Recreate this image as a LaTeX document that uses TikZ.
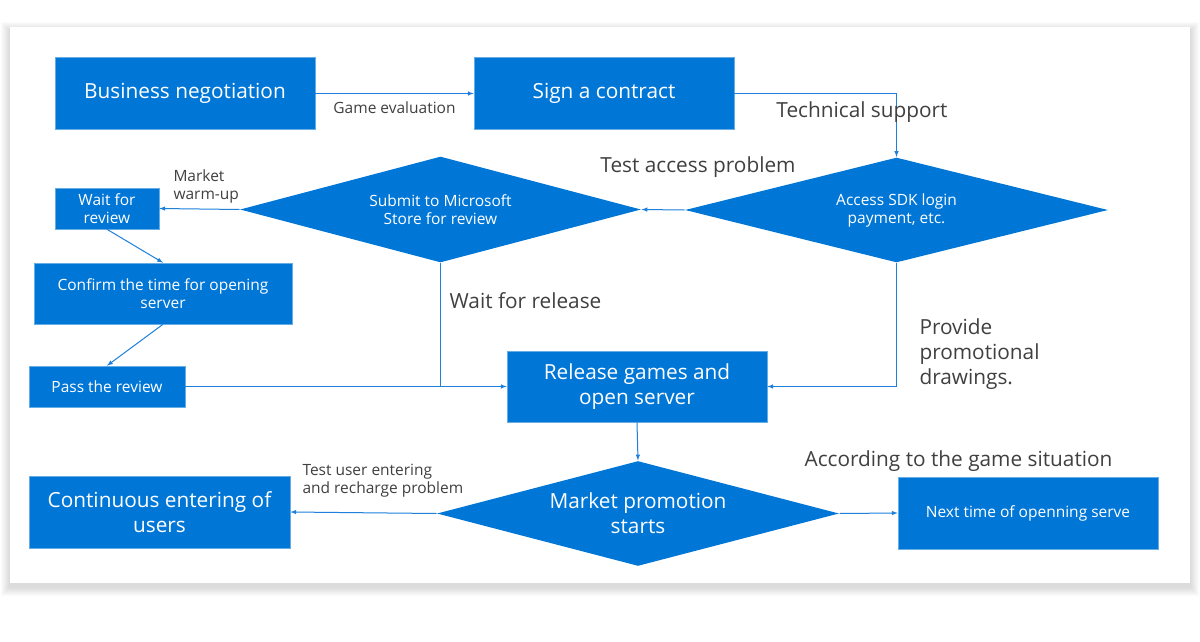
\documentclass[tikz,border=0pt]{standalone}
\usepackage{fontspec}
\setmainfont{Open Sans}
\usepackage{tikz}
\usetikzlibrary{arrows}
\usetikzlibrary{shapes.geometric}
\definecolor{msblue}{RGB}{0,118,214}
\definecolor{lineblue}{RGB}{28,128,220}
\definecolor{txtgray}{RGB}{64,64,64}
\tikzset{l/.style={font=\fontsize{20.8}{25}\selectfont}}
\tikzset{m/.style={font=\fontsize{15.5}{18}\selectfont}}
\tikzset{box/.style={draw=msblue!60!white, line width=0.6pt, fill=msblue, text=white, align=center, inner sep=0pt}}
\tikzset{dia/.style={diamond, fill=msblue, text=white, align=center, inner sep=0pt, shape aspect=3.8}}
\tikzset{lab/.style={text=txtgray, align=left, inner sep=0pt, yshift=-2.5pt}}

\begin{document}
\begin{tikzpicture}[x=1pt, y=-1pt, >=latex, line width=1pt]
        \useasboundingbox (0,0) rectangle (1200,642);
        % card and its shadow
        \foreach \i in {1,...,9}
          \fill [black, opacity=0.014] (10-\i,27-\i+4) rectangle (1190+\i,583+\i+4);
        \fill [white] (10,27) rectangle (1190,583);

        \node [box, l, minimum width=260, minimum height=72] (BN) at (185,93.5) {Business negotiation};
        \node [box, l, minimum width=260, minimum height=72] (SC) at (604,93.5) {Sign a contract}
          edge [<-, lineblue] node [lab, m, below=5pt] {Game evaluation} (BN);
        \node [dia, m, minimum width=423, minimum height=105] (AS) at (896.5,210) {Access SDK login\\payment, etc.};
        \node [dia, m, minimum width=401, minimum height=106] (SM) at (440.5,209.5) {Submit to Microsoft\\Store for review};
        \draw [->, lineblue] (SC.east) -| (AS.north);
        \node [lab, l] (TS) at (862,110) {Technical support};
        \draw [->, lineblue] (AS.west) -- (SM.east);
        \node [lab, l] (TA) at (698,165) {Test access problem};

        \node [box, m, minimum width=104, minimum height=41] (WR) at (107,208.5) {Wait for\\review};
        \draw [->, lineblue] (SM.west) -- (WR.east);
        \node [lab, m, anchor=west] (MW) at (173,184) {Market\\warm-up};
        \node [box, m, minimum width=258, minimum height=61] (CT) at (163,293.5) {Confirm the time for opening\\server};
        \draw [->, lineblue] (WR.south) -- (CT.north);
        \node [box, m, minimum width=156, minimum height=41] (PR) at (107,386.5) {Pass the review};
        \draw [->, lineblue] (CT.south) -- (PR.north);

        \node [box, l, minimum width=260, minimum height=71] (RG) at (637,386.5) {Release games and\\open server};
        \draw [->, lineblue] (PR.east) -- (RG.west);
        \draw [lineblue] (SM.south) -- (SM.south |- RG.west);
        \node [lab, l] (WL) at (525.5,298) {Wait for release};
        \draw [->, lineblue] (AS.south) |- (RG.east);
        \node [lab, l, anchor=west] (PD) at (919,352) {Provide\\promotional\\drawings.};

        \node [dia, l, minimum width=402, minimum height=105] (MP) at (638,513.5) {Market promotion\\starts};
        \draw [->, lineblue] (RG.south) -- (MP.north);
        \node [box, l, minimum width=261, minimum height=72] (CU) at (159.5,512) {Continuous entering of\\users};
        \draw [->, lineblue] (MP.west) -- (CU.east);
        \node [lab, m, anchor=west] (TU) at (302,478.5) {Test user entering\\and recharge problem};
        \node [box, m, minimum width=260, minimum height=72] (NT) at (1028,513) {Next time of openning serve};
        \draw [->, lineblue] (MP.east) -- (NT.west);
        \node [lab, l] (AG) at (958.5,459) {According to the game situation};
      \end{tikzpicture}
\end{document}
